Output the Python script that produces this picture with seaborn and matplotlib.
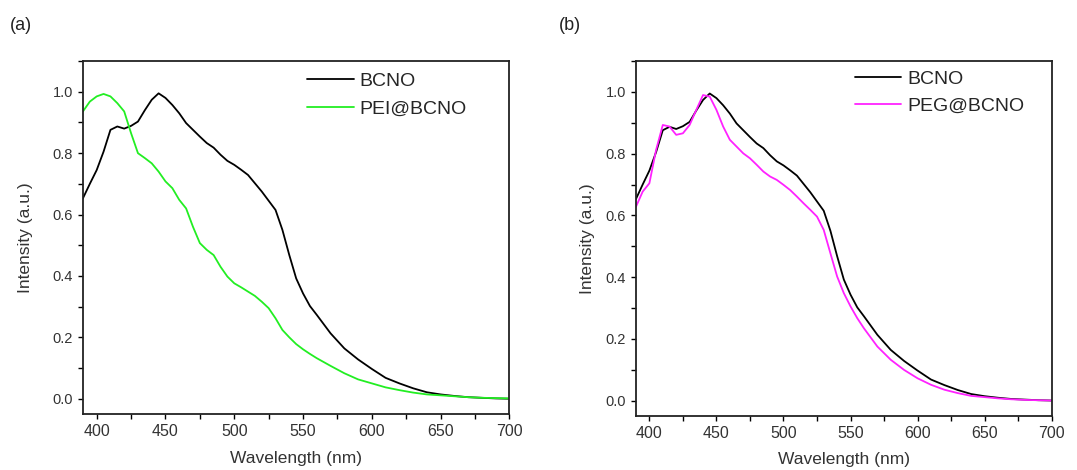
import numpy as np
import pandas as pd
import matplotlib.pyplot as plt
import seaborn as sns
from matplotlib.ticker import MultipleLocator

# --------------------------------------------------
# Dados
# --------------------------------------------------
wavelength = [390, 395, 400, 405, 410, 415, 420, 425, 430, 435, 440, 445, 450,
              455, 460, 465, 470, 475, 480, 485, 490, 495, 500, 505, 510, 515,
              520, 525, 530, 535, 540, 545, 550, 555, 560, 570, 580, 590, 600,
              610, 620, 630, 640, 650, 660, 670, 680, 690, 700]

bcno = [0.653, 0.700, 0.745, 0.805, 0.876, 0.887, 0.880, 0.889, 0.903, 0.940,
        0.974, 0.995, 0.980, 0.957, 0.930, 0.898, 0.876, 0.854, 0.833, 0.818,
        0.795, 0.775, 0.762, 0.746, 0.729, 0.702, 0.675, 0.645, 0.615, 0.550,
        0.468, 0.392, 0.343, 0.302, 0.273, 0.213, 0.164, 0.128, 0.097, 0.068,
        0.050, 0.034, 0.021, 0.014, 0.009, 0.005, 0.003, 0.001, 0.000]

pei_bcno = [0.936, 0.968, 0.985, 0.993, 0.985, 0.963, 0.936, 0.865, 0.800,
            0.784, 0.767, 0.740, 0.708, 0.686, 0.648, 0.620, 0.560, 0.507,
            0.485, 0.468, 0.430, 0.398, 0.376, 0.363, 0.349, 0.335, 0.316,
            0.295, 0.262, 0.224, 0.200, 0.178, 0.161, 0.146, 0.132, 0.107,
            0.083, 0.063, 0.050, 0.037, 0.028, 0.020, 0.014, 0.011, 0.008,
            0.005, 0.003, 0.002, 0.001]

peg_bcno = [0.628, 0.677, 0.704, 0.812, 0.893, 0.888, 0.861, 0.866, 0.893,
            0.942, 0.990, 0.985, 0.942, 0.888, 0.845, 0.823, 0.801, 0.785,
            0.764, 0.742, 0.726, 0.715, 0.699, 0.682, 0.661, 0.639, 0.618,
            0.596, 0.553, 0.477, 0.402, 0.348, 0.305, 0.267, 0.234, 0.175,
            0.132, 0.099, 0.072, 0.051, 0.035, 0.024, 0.015, 0.011, 0.007,
            0.004, 0.002, 0.001, 0.000]

x_ticks = [400, 450, 500, 550, 600, 650, 700]
y_ticks = [0.0, 0.2, 0.4, 0.6, 0.8, 1.0]

df_a = pd.DataFrame({
    "Wavelength": wavelength * 2,
    "Intensity": bcno + pei_bcno,
    "Amostra": ["BCNO"] * len(wavelength) + ["PEI@BCNO"] * len(wavelength),
})
df_b = pd.DataFrame({
    "Wavelength": wavelength * 2,
    "Intensity": bcno + peg_bcno,
    "Amostra": ["BCNO"] * len(wavelength) + ["PEG@BCNO"] * len(wavelength),
})

sns.set_style("ticks")
plt.rcParams["font.family"] = ["Liberation Sans", "DejaVu Sans"]

fig = plt.figure(figsize=(10.77, 4.70), dpi=100)
ax_a = fig.add_axes([0.077, 0.119, 0.396, 0.751])
ax_b = fig.add_axes([0.5905, 0.115, 0.386, 0.755])

paineis = [
    (ax_a, df_a, {"BCNO": "black", "PEI@BCNO": "#22ee22"}, 0.525, 0.968, "(a)", 0.009, 14),
    (ax_b, df_b, {"BCNO": "black", "PEG@BCNO": "#ff22ff"}, 0.526, 0.975, "(b)", 0.519, 8),
]

for ax, df, cores, lx, ly, letra, px, ypad in paineis:
    sns.lineplot(data=df, x="Wavelength", y="Intensity", hue="Amostra",
                 palette=cores, estimator=None, linewidth=1.3, ax=ax)
    ax.set_xlim(390, 700)
    ax.set_ylim(-0.05, 1.1)
    ax.set_xticks(x_ticks)
    ax.set_yticks(y_ticks)
    ax.set_yticklabels([f"{v:.1f}" for v in y_ticks])
    ax.xaxis.set_minor_locator(MultipleLocator(25))
    ax.yaxis.set_minor_locator(MultipleLocator(0.1))
    ax.tick_params(which="both", direction="out", length=3.5, width=1,
                   color="black", labelcolor="#333333",
                   top=False, right=False)
    ax.tick_params(axis="x", labelsize=11.5, pad=4)
    ax.tick_params(axis="y", labelsize=10.5, pad=3.5)
    for sp in ax.spines.values():
        sp.set_visible(True)
        sp.set_linewidth(1.3)
        sp.set_color("#222222")
    ax.set_xlabel("Wavelength (nm)", fontsize=12.5, color="#333333", labelpad=8)
    ax.set_ylabel("Intensity (a.u.)", fontsize=12.5, color="#333333", labelpad=ypad)

    handles, labels = ax.get_legend_handles_labels()
    ax.legend(handles, labels, loc="upper left", bbox_to_anchor=(lx, ly),
              frameon=False, fontsize=14, handlelength=2.4, handletextpad=0.3,
              labelspacing=0.5, borderpad=0, borderaxespad=0)

    fig.text(px, 0.945, letra, fontsize=13, color="#222222", va="center")

plt.savefig("out.png", dpi=100)
plt.close()
